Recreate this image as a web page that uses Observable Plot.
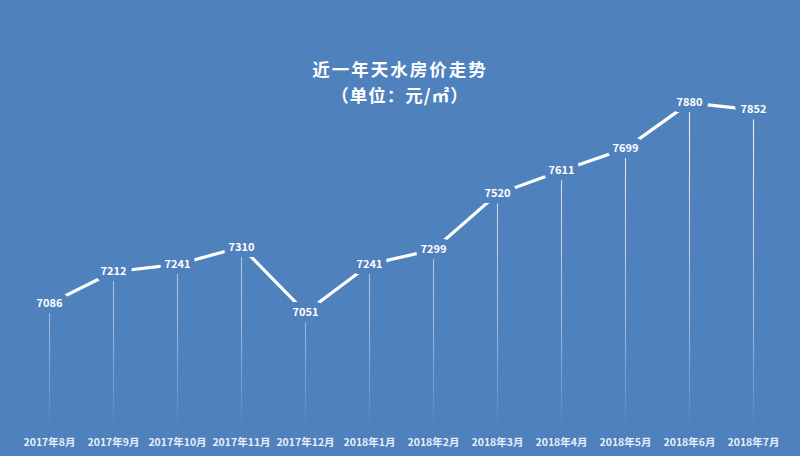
<!DOCTYPE html>
<html><head><meta charset="utf-8">
<script src="https://cdn.jsdelivr.net/npm/d3@7"></script>
<script src="https://cdn.jsdelivr.net/npm/@observablehq/plot@0.6"></script>
<style>
html,body{margin:0;padding:0;background:#4f81bd;}
#wrap{position:relative;width:800px;height:456px;overflow:hidden;}
.t{position:absolute;left:0;width:800px;text-align:center;color:#fff;font-family:"Noto Sans CJK SC",sans-serif;font-weight:bold;font-size:17.5px;line-height:22px;height:22px;z-index:2;}
#title{top:58px;letter-spacing:2px;}
#sub{top:84px;letter-spacing:1px;}
#chart{position:absolute;left:0;top:0;}
</style></head>
<body><div id="wrap">
<div class="t" id="title">近一年天水房价走势</div>
<div class="t" id="sub">（单位：元/㎡）</div>
<div id="chart"></div>
</div>
<script>
const months = ["2017年8月","2017年9月","2017年10月","2017年11月","2017年12月","2018年1月","2018年2月","2018年3月","2018年4月","2018年5月","2018年6月","2018年7月"];
const prices = [7086,7212,7241,7310,7051,7241,7299,7520,7611,7699,7880,7852];
const data = months.map((m,i)=>({month:m, price:prices[i]}));
const bg = "#4f81bd";
const plot = Plot.plot({
  width:800, height:456,
  margin:0,
  style:{background:"transparent", fontFamily:"'Noto Sans CJK SC', sans-serif"},
  x:{type:"point", domain:months, range:[45,756], padding:0, axis:null},
  y:{domain:[6600,8000], range:[426,72], axis:null},
  marks:[
    Plot.ruleX(data,{x:"month", y1:"price", y2:6640, stroke:"url(#fade)", strokeWidth:1.1, dy:10}),
    Plot.line(data,{x:"month", y:"price", stroke:"#fff", strokeWidth:3.2}),
    Plot.text(data,{x:"month", y:"price", text:d=>String(d.price), fill:"#fff", fontSize:11, fontWeight:"bold", stroke:bg, strokeWidth:12}),
    Plot.text(data,{x:"month", text:"month", frameAnchor:"bottom", dy:-11, fill:"#e6edf7", fontSize:10.5, fontWeight:"bold"})
  ]
});
const defs = d3.select(plot).insert("defs",":first-child");
const g = defs.append("linearGradient").attr("id","fade").attr("gradientUnits","userSpaceOnUse").attr("x1",0).attr("x2",0).attr("y1",100).attr("y2",425);
g.append("stop").attr("offset","0%").attr("stop-color","#fff").attr("stop-opacity",0.9);
g.append("stop").attr("offset","70%").attr("stop-color","#fff").attr("stop-opacity",0.4);
g.append("stop").attr("offset","100%").attr("stop-color","#fff").attr("stop-opacity",0);
document.getElementById("chart").appendChild(plot);
</script>
</body></html>
